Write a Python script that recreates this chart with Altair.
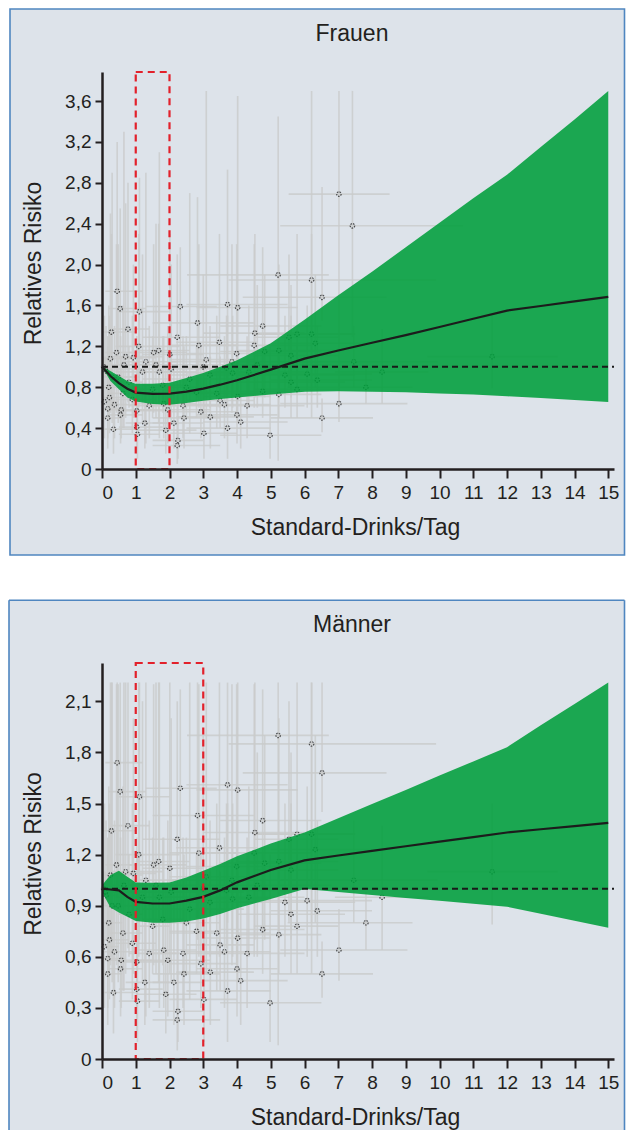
import altair as alt
import pandas as pd

FONT = "Liberation Sans, Arial, Helvetica, sans-serif"
INK = "#231f20"
BG = "#dde3ea"
BORDER = "#4f86c0"
GREEN = "#009e3b"
RED = "#e2212b"
GRAYBAR = "#c9cacb"

X_MAX = 15.17
x_ticks = list(range(0, 16))

# ---------------- Frauen (women) ----------------
frauen_y_ticks = [0, 0.4, 0.8, 1.2, 1.6, 2.0, 2.4, 2.8, 3.2, 3.6]
frauen_y_max = 3.885
frauen_bar_cap = 3.7
frauen_dose = [0, 0.25, 0.5, 0.75, 1, 1.5, 2, 2.5, 3, 3.5, 4, 5, 6, 7, 8, 9, 10, 11, 12, 13, 14, 15]
frauen_rr = [1.0, 0.91, 0.84, 0.785, 0.748, 0.735, 0.737, 0.758, 0.787, 0.825, 0.868, 0.972, 1.08, 1.16, 1.235, 1.31, 1.39, 1.47, 1.55, 1.595, 1.64, 1.685]
frauen_upper = [1.0, 0.96, 0.91, 0.86, 0.835, 0.835, 0.845, 0.89, 0.94, 1.0, 1.065, 1.23, 1.46, 1.70, 1.93, 2.17, 2.41, 2.65, 2.88, 3.15, 3.42, 3.70]
frauen_lower = [1.0, 0.86, 0.78, 0.70, 0.66, 0.635, 0.628, 0.645, 0.668, 0.685, 0.70, 0.73, 0.757, 0.76, 0.755, 0.75, 0.74, 0.728, 0.712, 0.695, 0.675, 0.655]
frauen_box_hi = 2

# ---------------- Männer (men) ----------------
maenner_y_ticks = [0, 0.3, 0.6, 0.9, 1.2, 1.5, 1.8, 2.1]
maenner_y_max = 2.325
maenner_bar_cap = 2.21
maenner_dose = [0, 0.25, 0.5, 0.75, 1, 1.5, 2, 2.5, 3, 3.5, 4, 5, 6, 7, 8, 9, 10, 11, 12, 13, 14, 15]
maenner_rr = [1.0, 0.995, 0.99, 0.952, 0.922, 0.913, 0.913, 0.93, 0.952, 0.99, 1.037, 1.11, 1.166, 1.195, 1.222, 1.249, 1.276, 1.303, 1.33, 1.349, 1.367, 1.386]
maenner_upper = [1.02, 1.08, 1.105, 1.07, 1.037, 1.035, 1.037, 1.065, 1.105, 1.145, 1.19, 1.265, 1.33, 1.414, 1.497, 1.58, 1.664, 1.747, 1.831, 1.96, 2.085, 2.21]
maenner_lower = [0.98, 0.89, 0.86, 0.835, 0.81, 0.80, 0.80, 0.808, 0.825, 0.852, 0.885, 0.94, 0.998, 0.981, 0.963, 0.946, 0.929, 0.911, 0.894, 0.853, 0.812, 0.77]
maenner_box_hi = 3

# ---------------- individual study estimates (same in both panels) ----------------
study_x = [0.45, 0.54, 0.28, 0.77, 0.43, 1.11, 1.09, 0.93, 1.53, 1.68,
           2.01, 2.32, 2.23, 2.83, 2.87, 3.09, 3.48, 3.72, 4.02, 3.99,
           4.53, 4.51, 4.76, 5.22, 6.21, 6.52, 6.21, 7.02, 7.42, 7.46,
           7.82, 8.30, 11.56, 7.02, 6.52, 4.98, 3.72, 3.63, 4.11, 4.00,
           3.21, 3.02, 2.43, 2.93, 2.25, 2.23, 1.89, 1.03, 1.05, 1.27,
           0.34, 0.17, 0.55, 0.57, 0.37, 0.22, 0.17, 0.07, 1.03, 1.83,
           2.13, 3.20, 3.69, 3.87, 4.35, 4.82, 5.24, 5.42, 5.60, 5.78,
           6.08, 6.38, 6.32, 5.54, 4.76, 5.24, 5.78, 4.02, 3.50, 2.50,
           1.50, 0.80, 1.80, 2.80, 0.10, 1.30, 1.70, 0.65, 2.60, 0.30,
           0.05, 0.12, 0.20, 0.62, 0.90, 1.40, 1.95, 2.40, 3.40, 4.30,
           0.25, 0.48, 0.70, 1.20, 1.60, 2.05, 3.00, 3.85, 4.60, 5.60]
study_rr = [1.74, 1.57, 1.34, 1.37, 1.14, 1.54, 1.20, 1.09, 1.14, 1.16,
            1.12, 1.59, 1.29, 1.43, 1.21, 1.07, 1.24, 1.61, 1.58, 1.13,
            1.33, 1.21, 1.40, 1.90, 1.85, 1.68, 1.32, 2.69, 2.38, 1.05,
            0.80, 0.95, 1.10, 0.64, 0.50, 0.33, 0.40, 0.63, 0.46, 0.53,
            0.51, 0.35, 0.50, 0.56, 0.28, 0.23, 0.38, 0.41, 0.34, 0.45,
            0.39, 0.50, 0.53, 0.58, 0.63, 0.70, 0.59, 0.66, 0.57, 0.64,
            0.45, 0.92, 0.99, 0.94, 0.95, 1.15, 1.16, 0.92, 1.11, 1.32,
            0.93, 0.87, 1.23, 1.29, 0.76, 0.73, 0.78, 0.71, 0.67, 0.80,
            0.78, 0.85, 0.82, 0.75, 0.98, 1.05, 0.95, 1.02, 0.88, 0.90,
            1.00, 0.96, 0.80, 0.74, 0.68, 0.62, 0.58, 0.62, 0.74, 0.62,
            1.08, 0.90, 1.10, 0.95, 1.02, 0.98, 1.00, 1.05, 1.02, 0.85]
study_x_lo = [0.10, 0.20, 0.00, 0.30, 0.10, 0.50, 0.40, 0.50, 0.80, 1.00,
              1.20, 1.30, 1.20, 1.50, 2.00, 2.00, 2.20, 2.50, 2.80, 2.50,
              3.00, 3.00, 3.50, 2.52, 3.75, 4.17, 4.50, 5.53, 5.28, 5.30,
              5.50, 6.90, 9.64, 5.28, 5.00, 3.50, 2.50, 2.50, 3.00, 2.80,
              2.20, 2.00, 1.50, 2.00, 1.50, 1.50, 1.00, 0.50, 0.50, 0.70,
              0.00, 0.00, 0.20, 0.10, 0.00, 0.00, 0.00, 0.00, 0.50, 1.00,
              1.50, 2.00, 2.50, 2.50, 3.00, 3.50, 4.00, 4.00, 4.50, 4.50,
              4.50, 5.00, 5.00, 4.50, 3.50, 4.00, 4.50, 3.00, 2.50, 1.50,
              1.00, 0.50, 1.20, 2.00, 0.00, 0.60, 1.00, 0.00, 1.20, 0.00,
              0.00, 0.00, 0.00, 0.20, 0.40, 0.80, 1.00, 1.40, 2.00, 3.00,
              0.00, 0.10, 0.20, 0.40, 0.80, 0.00, 1.50, 2.00, 3.00, 4.00]
study_x_hi = [1.20, 1.30, 1.00, 1.40, 0.90, 2.00, 2.30, 1.60, 2.50, 2.60,
              3.00, 3.40, 3.50, 4.50, 4.00, 4.50, 4.60, 5.50, 5.80, 5.50,
              6.00, 6.20, 6.50, 6.72, 9.90, 8.43, 7.50, 8.52, 10.70, 9.94,
              9.20, 9.67, 13.50, 9.05, 8.03, 6.50, 5.00, 5.00, 5.50, 5.20,
              4.50, 4.00, 3.50, 4.00, 3.00, 3.50, 2.80, 1.80, 1.70, 2.00,
              1.00, 0.60, 1.20, 1.50, 1.00, 0.80, 0.70, 0.50, 2.00, 2.80,
              3.00, 4.50, 5.50, 5.00, 6.00, 6.50, 7.00, 7.50, 7.00, 7.50,
              8.00, 8.00, 8.00, 7.00, 6.00, 6.50, 7.00, 5.00, 4.50, 3.50,
              2.00, 1.20, 2.40, 3.50, 0.30, 2.20, 2.80, 1.40, 4.20, 1.10,
              0.20, 0.40, 0.60, 1.20, 1.60, 2.20, 3.20, 3.60, 5.00, 6.00,
              1.20, 1.00, 1.80, 2.50, 3.20, 4.20, 5.00, 6.50, 6.80, 7.20]
study_rr_lo = [0.95, 0.85, 0.60, 0.65, 0.55, 0.70, 0.60, 0.50, 0.55, 0.45,
               0.50, 0.80, 0.70, 0.70, 0.60, 0.50, 0.60, 0.80, 0.70, 0.55,
               0.70, 0.60, 0.75, 0.08, 0.50, 1.45, 0.80, 0.60, 1.29, 0.80,
               0.64, 0.64, 0.79, 0.46, 0.36, 0.10, 0.10, 0.30, 0.20, 0.25,
               0.20, 0.10, 0.20, 0.30, 0.10, 0.05, 0.15, 0.15, 0.10, 0.20,
               0.15, 0.20, 0.25, 0.30, 0.30, 0.35, 0.30, 0.30, 0.25, 0.30,
               0.20, 0.60, 0.65, 0.60, 0.60, 0.70, 0.70, 0.60, 0.70, 0.80,
               0.60, 0.60, 0.80, 0.80, 0.50, 0.50, 0.50, 0.45, 0.40, 0.50,
               0.50, 0.60, 0.55, 0.50, 0.90, 0.25, 0.30, 0.40, 0.35, 0.45,
               0.90, 0.70, 0.50, 0.40, 0.35, 0.30, 0.25, 0.30, 0.40, 0.30,
               0.55, 0.45, 0.50, 0.45, 0.50, 0.45, 0.55, 0.55, 0.60, 0.50]
study_rr_hi = [3.20, 2.55, 2.30, 2.80, 2.20, 2.85, 2.30, 2.00, 2.20, 2.40,
               2.30, 2.17, 2.10, 2.66, 2.20, 3.90, 2.30, 2.93, 3.65, 2.20,
               2.30, 2.20, 2.17, 3.45, 3.90, 2.76, 2.30, 3.90, 3.90, 1.40,
               0.98, 1.37, 1.50, 0.88, 0.69, 1.20, 1.50, 1.30, 1.00, 1.20,
               1.10, 1.00, 1.20, 1.20, 0.80, 0.70, 1.00, 1.10, 1.20, 1.00,
               0.90, 1.20, 1.30, 1.10, 1.40, 1.50, 1.30, 1.50, 1.30, 1.30,
               1.00, 1.40, 1.50, 1.50, 1.60, 1.90, 2.00, 1.50, 1.80, 2.30,
               1.60, 1.40, 1.90, 2.10, 1.20, 1.10, 1.20, 1.10, 1.10, 1.30,
               1.30, 1.20, 1.30, 1.20, 1.10, 2.90, 3.10, 3.30, 2.70, 2.90,
               1.10, 1.40, 1.60, 1.60, 1.50, 1.40, 1.40, 1.30, 1.50, 1.30,
               2.50, 2.20, 2.60, 2.10, 2.40, 2.00, 1.90, 2.20, 1.80, 1.50]

studies = pd.DataFrame({
    "dose": study_x, "rr": study_rr,
    "dose_lo": study_x_lo, "dose_hi": study_x_hi,
    "rr_lo": study_rr_lo, "rr_hi": study_rr_hi,
})

Y_LABEL = "datum.value == 0 ? '0' : replace(format(datum.value, '.1f'), '.', ',')"

BOX_L = -93
BOX_R = 522.5


def panel(title, dose, rr, upper, lower, y_ticks, y_max, cap, box_hi, height, last):
    xs = alt.Scale(domain=[0, X_MAX], nice=False, zero=False)
    ys = alt.Scale(domain=[0, y_max], nice=False, zero=False)
    x_axis = alt.Axis(values=x_ticks, title="Standard-Drinks/Tag", format="d", zindex=2,
                      titleX=253, titleY=58, titleBaseline="middle", titleAlign="center")
    y_axis = alt.Axis(values=y_ticks, labelExpr=Y_LABEL, title="Relatives Risiko", zindex=2,
                      titleAngle=270, titleX=-69, titleY=191 * height / 397,
                      titleBaseline="middle", titleAlign="center")

    def X(f):
        return alt.X(f, scale=xs, axis=x_axis)

    def Y(f):
        return alt.Y(f, scale=ys, axis=y_axis)

    curve = pd.DataFrame({"dose": dose, "rr": rr, "upper": upper, "lower": lower})
    st = studies.copy()
    st["rr_hi_c"] = st["rr_hi"].clip(upper=cap)
    st["dose_lo_c"] = st["dose_lo"].clip(lower=0)
    st = st[st["rr"] <= cap]
    one = pd.DataFrame({"t": [title]})

    layers = []
    box_bottom = 467 if last else 483
    box_top = -62.7 if last else -63
    if last:
        layers.append(alt.Chart(one).mark_rect(fill=BG, strokeWidth=0).encode(
            x=alt.value(BOX_L), x2=alt.value(BOX_R), y=alt.value(box_top), y2=alt.value(box_bottom)))
        for (xa, xb, ya, yb) in [(BOX_L, BOX_L, box_top, box_bottom), (BOX_R, BOX_R, box_top, box_bottom),
                                 (BOX_L, BOX_R, box_top, box_top)]:
            layers.append(alt.Chart(one).mark_rule(color=BORDER, strokeWidth=1.6).encode(
                x=alt.value(xa), x2=alt.value(xb), y=alt.value(ya), y2=alt.value(yb)))
    else:
        layers.append(alt.Chart(one).mark_rect(fill=BG, stroke=BORDER, strokeWidth=1.6).encode(
            x=alt.value(BOX_L + 1), x2=alt.value(BOX_R), y=alt.value(box_top), y2=alt.value(box_bottom)))

    hbars = alt.Chart(st).mark_rule(color=GRAYBAR, strokeWidth=1.6, opacity=0.8).encode(
        x=X("dose_lo_c:Q"), x2="dose_hi:Q", y=Y("rr:Q"))
    vbars = alt.Chart(st).mark_rule(color=GRAYBAR, strokeWidth=1.6, opacity=0.8).encode(
        x=X("dose:Q"), y=Y("rr_lo:Q"), y2="rr_hi_c:Q")
    pts = alt.Chart(st).mark_point(shape="circle", size=20, filled=False, color="#111111",
                                   strokeWidth=1.2, strokeDash=[1.5, 1]).encode(
        x=X("dose:Q"), y=Y("rr:Q"))
    band = alt.Chart(curve).mark_area(color=GREEN, opacity=0.88).encode(
        x=X("dose:Q"), y=Y("lower:Q"), y2="upper:Q")
    ref = alt.Chart(pd.DataFrame({"a": [0], "b": [X_MAX], "v": [1.0]})).mark_rule(
        color="#1a1a1a", strokeWidth=2, strokeDash=[6, 4]).encode(
        x=X("a:Q"), x2="b:Q", y=Y("v:Q"))
    line = alt.Chart(curve).mark_line(color="#1c1c1c", strokeWidth=2.2).encode(
        x=X("dose:Q"), y=Y("rr:Q"))
    redbox = alt.Chart(pd.DataFrame({"a": [1], "b": [box_hi], "lo": [0], "hi": [y_max]})).mark_rect(
        fillOpacity=0, stroke=RED, strokeWidth=2.2, strokeDash=[7, 5]).encode(
        x=X("a:Q"), x2="b:Q", y=Y("lo:Q"), y2="hi:Q")
    ttl = alt.Chart(one).mark_text(font=FONT, fontSize=23, color=INK, baseline="middle").encode(
        text="t:N", x=alt.value(250), y=alt.value(-38))

    layers += [hbars, vbars, pts, band, ref, line, redbox, ttl]
    return alt.layer(*layers).properties(width=512, height=height)


top = panel("Frauen", frauen_dose, frauen_rr, frauen_upper, frauen_lower,
            frauen_y_ticks, frauen_y_max, frauen_bar_cap, frauen_box_hi, 397, False)
bottom = panel("Männer", maenner_dose, maenner_rr, maenner_upper, maenner_lower,
               maenner_y_ticks, maenner_y_max, maenner_bar_cap, maenner_box_hi, 396, True)

chart = alt.VConcatChart(vconcat=[top, bottom], spacing=194, bounds="flush").properties(
    padding={"left": 0, "top": 0, "right": 0, "bottom": 0},
).configure(background="white").configure_view(stroke=None).configure_axis(
    grid=False,
    domainColor=INK, domainWidth=2.5, tickColor=INK, tickWidth=2,
    labelFont=FONT, labelFontSize=19, labelColor=INK,
    titleFont=FONT, titleFontSize=23, titleFontWeight="normal", titleColor=INK,
).configure_axisX(tickSize=9, labelPadding=5, labelAngle=0).configure_axisY(tickSize=7, labelPadding=4)

chart.save("out.html", embed_options={"renderer": "svg", "actions": False})
